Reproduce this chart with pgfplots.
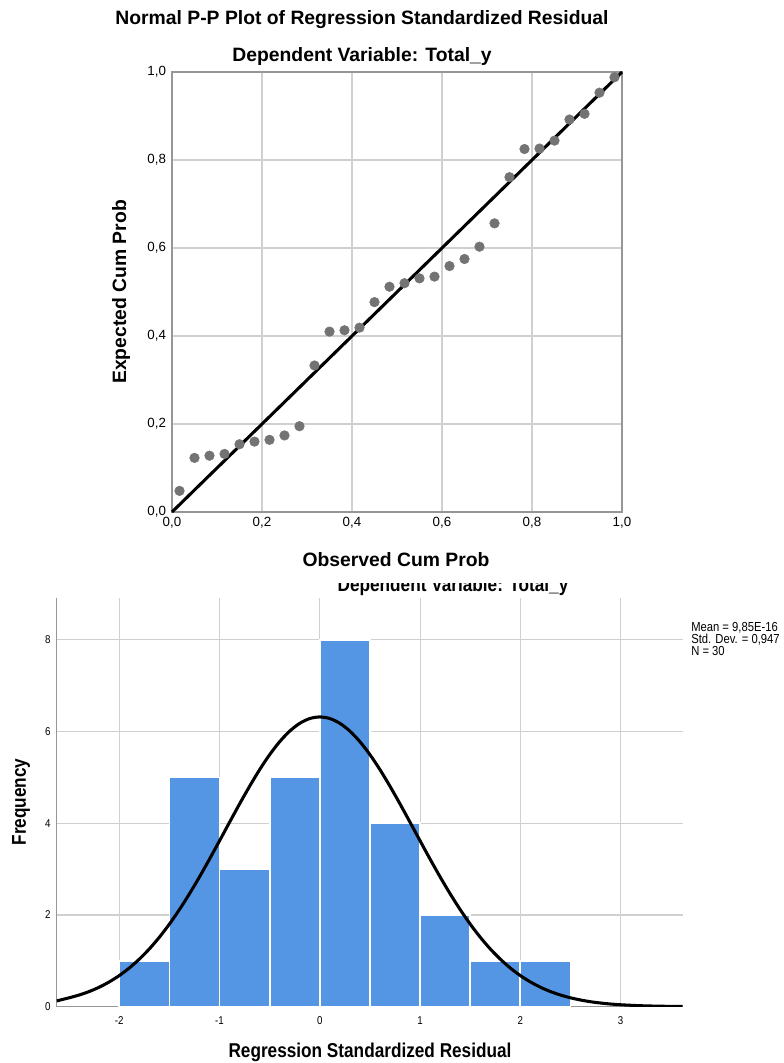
\documentclass[border=0pt]{standalone}
\usepackage{fontspec}
\setmainfont{Liberation Sans}
\newfontfamily\narrowfont[FakeStretch=0.86]{Liberation Sans}
\usepackage{pgfplots}
\pgfplotsset{compat=1.18}
\definecolor{gridgray}{RGB}{208,208,208}
\definecolor{axisgray}{RGB}{150,150,150}
\definecolor{dotgray}{RGB}{115,115,115}
\definecolor{barblue}{RGB}{85,150,228}

\begin{document}
\begin{tikzpicture}[x=0.75pt,y=-0.75pt]
\useasboundingbox (0,0) rectangle (783,1063);

% ---------------- P-P plot ----------------
\node[font=\bfseries\fontsize{14.5}{16}\selectfont] at (362,20) {Normal P-P Plot of Regression Standardized Residual};
\node[font=\bfseries\fontsize{14.5}{16}\selectfont] at (362,57) {Dependent Variable: Total\_y};

\begin{axis}[
    at={(129pt,-384pt)}, anchor=south west,
    scale only axis, width=337.5pt, height=330pt,
    xmin=0, xmax=1, ymin=0, ymax=1,
    xtick={0,0.2,0.4,0.6,0.8,1}, ytick={0,0.2,0.4,0.6,0.8,1},
    grid=major, grid style={gridgray, line width=0.8pt},
    axis line style={axisgray, line width=0.9pt},
    major tick length=0pt,
    /pgf/number format/.cd, use comma, fixed, fixed zerofill, precision=1, assume math mode=true,
    /pgfplots/.cd,
    ticklabel style={font=\fontsize{10}{11}\selectfont},
    xticklabel style={yshift=0pt},
    yticklabel style={xshift=-1pt},
    clip=false,
]
\addplot[only marks, mark=*, mark size=3.6pt, dotgray, mark options={draw=dotgray, fill=dotgray}]
coordinates {
(0.0167,0.048)(0.0500,0.123)(0.0833,0.128)(0.1167,0.132)(0.1500,0.154)
(0.1833,0.160)(0.2167,0.164)(0.2500,0.174)(0.2833,0.195)(0.3167,0.333)
(0.3500,0.410)(0.3833,0.413)(0.4167,0.419)(0.4500,0.477)(0.4833,0.512)
(0.5167,0.520)(0.5500,0.531)(0.5833,0.535)(0.6167,0.559)(0.6500,0.575)
(0.6833,0.603)(0.7167,0.656)(0.7500,0.761)(0.7833,0.825)(0.8167,0.826)
(0.8500,0.844)(0.8833,0.892)(0.9167,0.905)(0.9500,0.953)(0.9833,0.988)
};
\addplot[black, line width=2.3pt] coordinates {(0,0)(1,1)};
\end{axis}
\node[font=\bfseries\fontsize{14.5}{16}\selectfont] at (396,560) {Observed Cum Prob};
\node[rotate=90, font=\bfseries\fontsize{14.5}{16}\selectfont] at (121,292) {Expected Cum Prob};

% ---------------- histogram ----------------
% the second title is cut off at the top in the source image
\begin{scope}
\clip (0,583) rectangle (783,1063);
\node[anchor=base, font=\narrowfont\bfseries\fontsize{15}{17}\selectfont] at (453,591) {Dependent Variable: Total\_y};
\end{scope}

\begin{axis}[
    at={(42.5pt,-755pt)}, anchor=south west,
    scale only axis, width=469.5pt, height=306.75pt,
    xmin=-2.625, xmax=3.62, ymin=0, ymax=8.92,
    xtick={-2,-1,0,1,2,3}, ytick={0,2,4,6,8},
    grid=major, grid style={gridgray, line width=0.8pt},
    axis x line=bottom, axis y line=left,
    axis line style={axisgray, line width=0.9pt, -},
    major tick length=0pt,
    /pgf/number format/assume math mode=true,
    ticklabel style={font=\narrowfont\fontsize{8.5}{9.5}\selectfont},
    xticklabel style={yshift=-4pt},
    yticklabel style={xshift=-1pt},
    clip=true,
]
\addplot[ybar interval, fill=barblue, draw=white, line width=1.3pt]
coordinates {(-2,1)(-1.5,5)(-1,3)(-0.5,5)(0,8)(0.5,4)(1,2)(1.5,1)(2,1)(2.5,1)};
\addplot[black, line width=2.3pt, smooth] coordinates {
(-2.625,0.126)(-2.5,0.194)(-2.4,0.255)(-2.3,0.331)(-2.2,0.425)(-2.1,0.541)
(-2.0,0.679)(-1.9,0.844)(-1.8,1.038)(-1.7,1.261)(-1.6,1.516)(-1.5,1.802)
(-1.4,2.119)(-1.3,2.463)(-1.2,2.831)(-1.1,3.219)(-1.0,3.619)(-0.9,4.023)
(-0.8,4.423)(-0.7,4.808)(-0.6,5.170)(-0.5,5.497)(-0.4,5.780)(-0.3,6.010)
(-0.2,6.180)(-0.1,6.284)(0,6.319)(0.1,6.284)(0.2,6.180)(0.3,6.010)
(0.4,5.780)(0.5,5.497)(0.6,5.170)(0.7,4.808)(0.8,4.423)(0.9,4.023)
(1.0,3.619)(1.1,3.219)(1.2,2.831)(1.3,2.463)(1.4,2.119)(1.5,1.802)
(1.6,1.516)(1.7,1.261)(1.8,1.038)(1.9,0.844)(2.0,0.679)(2.1,0.541)
(2.2,0.425)(2.3,0.331)(2.4,0.255)(2.5,0.194)(2.6,0.146)(2.7,0.108)
(2.8,0.080)(2.9,0.058)(3.0,0.042)(3.2,0.021)(3.4,0.010)(3.62,0.004)
};
\end{axis}
\node[font=\narrowfont\bfseries\fontsize{15}{17}\selectfont] at (370,1052) {Regression Standardized Residual};
\node[rotate=90, font=\narrowfont\bfseries\fontsize{15}{17}\selectfont] at (21,802) {Frequency};

\node[anchor=north west, align=left, inner sep=0pt,
      font=\narrowfont\fontsize{9.8}{9.2}\selectfont] at (691,622)
  {Mean = 9,85E-16\\Std. Dev. = 0,947\\N = 30};
\end{tikzpicture}
\end{document}
